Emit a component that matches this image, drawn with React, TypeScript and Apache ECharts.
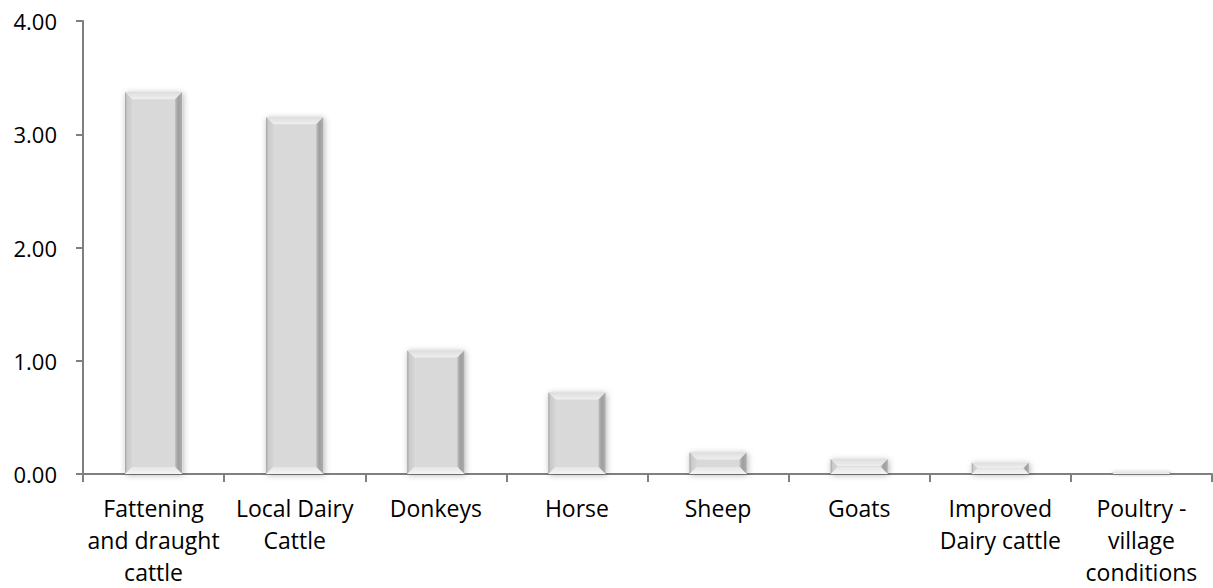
import React, { useEffect, useRef } from "react";
import * as echarts from "echarts";

// Livestock categories (labels carry their own line breaks)
const categories: string[] = [
  "Fattening\nand draught\ncattle",
  "Local Dairy\nCattle",
  "Donkeys",
  "Horse",
  "Sheep",
  "Goats",
  "Improved\nDairy cattle",
  "Poultry -\nvillage\nconditions",
];

const values: number[] = [3.37, 3.15, 1.09, 0.72, 0.19, 0.13, 0.1, 0.02];

const yMin = 0;
const yMax = 4;
const yInterval = 1;

const FONT = "'Open Sans', 'Liberation Sans', sans-serif";
const AXIS_COLOR = "#808080";

// Draws one bevelled bar: a flat face framed by four shaded trapezoids
function renderBevelBar(params: any, api: any) {
  const idx = api.value(0);
  const v = api.value(1);
  const top = api.coord([idx, v]);
  const base = api.coord([idx, 0]);
  const bandWidth = api.size([1, 0])[0];
  const w = bandWidth * 0.405;
  const x0 = top[0] - w / 2;
  const x1 = top[0] + w / 2;
  const y0 = top[1];
  const y1 = base[1];
  const h = y1 - y0;
  const b = Math.min(7, h / 2);

  return {
    type: "group",
    children: [
      {
        type: "rect",
        shape: { x: x0, y: y0, width: w, height: h },
        style: {
          fill: "#d9d9d9",
          shadowBlur: 6,
          shadowColor: "rgba(0,0,0,0.3)",
          shadowOffsetX: 1,
          shadowOffsetY: 1,
        },
      },
      {
        // top bevel
        type: "polygon",
        shape: {
          points: [
            [x0, y0],
            [x1, y0],
            [x1 - b, y0 + b],
            [x0 + b, y0 + b],
          ],
        },
        style: {
          fill: new echarts.graphic.LinearGradient(0, 0, 0, 1, [
            { offset: 0, color: "#dedede" },
            { offset: 1, color: "#efefef" },
          ]),
        },
      },
      {
        // left bevel
        type: "polygon",
        shape: {
          points: [
            [x0, y0],
            [x0 + b, y0 + b],
            [x0 + b, y1 - b],
            [x0, y1],
          ],
        },
        style: {
          fill: new echarts.graphic.LinearGradient(0, 0, 1, 0, [
            { offset: 0, color: "#a0a0a0" },
            { offset: 0.3, color: "#cbcbcb" },
            { offset: 1, color: "#d4d4d4" },
          ]),
        },
      },
      {
        // right bevel
        type: "polygon",
        shape: {
          points: [
            [x1, y0],
            [x1, y1],
            [x1 - b, y1 - b],
            [x1 - b, y0 + b],
          ],
        },
        style: {
          fill: new echarts.graphic.LinearGradient(0, 0, 1, 0, [
            { offset: 0, color: "#bdbdbd" },
            { offset: 0.45, color: "#9e9e9e" },
            { offset: 1, color: "#adadad" },
          ]),
        },
      },
      {
        // bottom bevel
        type: "polygon",
        shape: {
          points: [
            [x0, y1],
            [x0 + b, y1 - b],
            [x1 - b, y1 - b],
            [x1, y1],
          ],
        },
        style: {
          fill: new echarts.graphic.LinearGradient(0, 0, 0, 1, [
            { offset: 0, color: "#e6e6e6" },
            { offset: 1, color: "#f4f4f4" },
          ]),
        },
      },
    ],
  };
}

export default function App() {
  const ref = useRef<HTMLDivElement>(null);

  useEffect(() => {
    document.body.style.margin = "0";
    if (!ref.current) return;
    const chart = echarts.init(ref.current, undefined, { renderer: "svg" });

    chart.setOption({
      animation: false,
      backgroundColor: "#ffffff",
      grid: { left: 83, right: 1, top: 21, bottom: 113, containLabel: false },
      xAxis: {
        type: "category",
        data: categories,
        boundaryGap: true,
        axisLine: { show: true, lineStyle: { color: AXIS_COLOR, width: 2 } },
        axisTick: {
          show: true,
          alignWithLabel: false,
          length: 8,
          lineStyle: { color: AXIS_COLOR, width: 2 },
        },
        axisLabel: {
          interval: 0,
          margin: 18,
          color: "#000000",
          fontFamily: FONT,
          fontSize: 23,
          lineHeight: 32,
          align: "center",
        },
        splitLine: { show: false },
      },
      yAxis: {
        type: "value",
        min: yMin,
        max: yMax,
        interval: yInterval,
        axisLine: { show: true, lineStyle: { color: AXIS_COLOR, width: 2 } },
        axisTick: {
          show: true,
          length: 7,
          lineStyle: { color: AXIS_COLOR, width: 2 },
        },
        axisLabel: {
          margin: 26,
          color: "#000000",
          fontFamily: FONT,
          fontSize: 22,
          formatter: (v: number) => v.toFixed(2),
        },
        splitLine: { show: false },
      },
      series: [
        {
          type: "custom",
          renderItem: renderBevelBar,
          encode: { x: 0, y: 1 },
          data: values.map((v, i) => [i, v]),
          clip: false,
        },
      ],
    });

    return () => chart.dispose();
  }, []);

  return <div ref={ref} style={{ width: 1213, height: 588 }} />;
}
